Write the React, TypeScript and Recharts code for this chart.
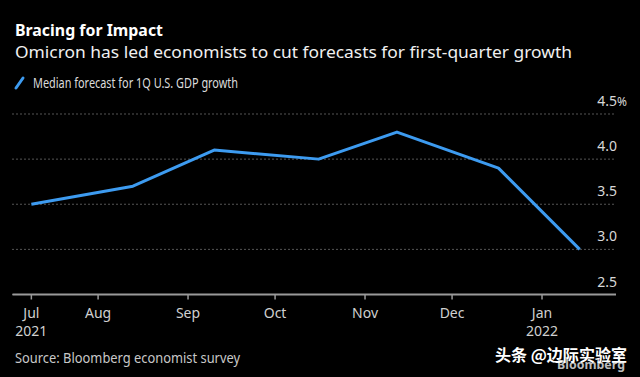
import { LineChart, Line, XAxis, YAxis, CartesianGrid } from 'recharts'

const SURVEY_DATES = ['2021-07-09', '2021-08-13', '2021-09-10', '2021-10-16', '2021-11-12', '2021-12-17', '2022-01-14']
const GDP_FORECAST = [3.5, 3.7, 4.1, 4.0, 4.3, 3.9, 3.0]

const TICK_DATES = ['2021-07-09', '2021-08-01', '2021-09-01', '2021-10-01', '2021-11-01', '2021-12-01', '2022-01-01']
const TICK_MONTHS = ['Jul', 'Aug', 'Sep', 'Oct', 'Nov', 'Dec', 'Jan']
const TICK_YEARS = ['2021', '', '', '', '', '', '2022']
const Y_TICKS = [2.5, 3.0, 3.5, 4.0, 4.5]

const DOMAIN_START = '2021-07-02T12:00:00Z'
const DOMAIN_END = '2022-01-26T12:00:00Z'

const BLUE = '#3d9bf0'
const FONT = '"Noto Sans", "DejaVu Sans", sans-serif'

const toTime = (d: string) => Date.parse(d.length === 10 ? d + 'T00:00:00Z' : d)

const data = SURVEY_DATES.map((d, i) => ({ t: toTime(d), v: GDP_FORECAST[i] }))
const xTicks = TICK_DATES.map(toTime)

function MonthTick(props: any) {
  const { x, y, payload } = props
  const i = xTicks.indexOf(payload.value)
  return (
    <g>
      <text x={x} y={y + 16} textAnchor="middle" fill="#d0d0d0" fontSize={14} fontFamily={FONT}>
        {TICK_MONTHS[i]}
      </text>
      {TICK_YEARS[i] && (
        <text x={x} y={y + 34} textAnchor="middle" fill="#d0d0d0" fontSize={14} fontFamily={FONT}>
          {TICK_YEARS[i]}
        </text>
      )}
    </g>
  )
}

function ValueTick(props: any) {
  const { y, payload } = props
  const top = payload.value === Y_TICKS[Y_TICKS.length - 1]
  // labels sit just above their gridline, right-aligned to the plot edge
  const right = 617
  return (
    <g>
      <text x={right} y={y - 8} textAnchor="end" fill="#d8d8d8" fontSize={14} fontFamily={FONT}>
        {payload.value.toFixed(1)}
      </text>
      {top && (
        <text x={right} y={y - 8} textAnchor="start" fill="#d8d8d8" fontSize={12} fontFamily={FONT}>
          %
        </text>
      )}
    </g>
  )
}

export default function App() {
  return (
    <div style={{ position: 'relative', width: 640, height: 377, background: '#000', overflow: 'hidden' }}>
      <style>{'body{margin:0;background:#000}'}</style>
      <LineChart
        width={640}
        height={377}
        data={data}
        margin={{ top: 114, right: 0, left: 12.5, bottom: 52.5 }}
      >
        <CartesianGrid vertical={false} stroke="#a8a8a8" strokeDasharray="1 3" />
        <XAxis
          dataKey="t"
          type="number"
          domain={[toTime(DOMAIN_START), toTime(DOMAIN_END)]}
          ticks={xTicks}
          tick={<MonthTick />}
          height={30}
          axisLine={{ stroke: '#9a9a9a', strokeWidth: 2 }}
          tickLine={{ stroke: '#9a9a9a', strokeWidth: 1.5 }}
          tickSize={5}
          interval={0}
        />
        <YAxis
          orientation="right"
          type="number"
          domain={[2.5, 4.5]}
          ticks={Y_TICKS}
          width={24}
          tickSize={0}
          tickMargin={0}
          axisLine={false}
          tickLine={false}
          tick={<ValueTick />}
          interval={0}
        />
        <Line
          dataKey="v"
          stroke={BLUE}
          strokeWidth={3}
          dot={false}
          isAnimationActive={false}
          strokeLinejoin="round"
        />
      </LineChart>
      <svg width={640} height={377} style={{ position: 'absolute', left: 0, top: 0, pointerEvents: 'none' }}>
        <text x={15} y={36} fill="#fff" fontSize={16.5} fontWeight="bold" fontFamily={FONT} textLength={148} lengthAdjust="spacingAndGlyphs">
          Bracing for Impact
        </text>
        <text x={15} y={57.5} fill="#f0f0f0" fontSize={16.5} fontFamily={FONT} textLength={557} lengthAdjust="spacingAndGlyphs">
          Omicron has led economists to cut forecasts for first-quarter growth
        </text>
        <line x1={16} y1={88} x2={23} y2={78} stroke={BLUE} strokeWidth={3} strokeLinecap="round" />
        <text x={33} y={87.5} fill="#dcdcdc" fontSize={14.5} fontFamily={FONT} textLength={205} lengthAdjust="spacingAndGlyphs">
          Median forecast for 1Q U.S. GDP growth
        </text>
        <text x={15} y={363} fill="#c8c8c8" fontSize={14} fontFamily={FONT} textLength={225} lengthAdjust="spacingAndGlyphs">
          Source: Bloomberg economist survey
        </text>
        <text x={557} y={369} fill="#bdbdbd" fontSize={13} fontWeight="bold" fontFamily={FONT} textLength={68} lengthAdjust="spacingAndGlyphs">
          Bloomberg
        </text>
        <text x={495} y={361} fill="#fff" fontSize={16} fontWeight="bold" fontFamily={'"Noto Sans CJK SC", sans-serif'} textLength={132} lengthAdjust="spacingAndGlyphs">
          头条 @边际实验室
        </text>
      </svg>
    </div>
  )
}
